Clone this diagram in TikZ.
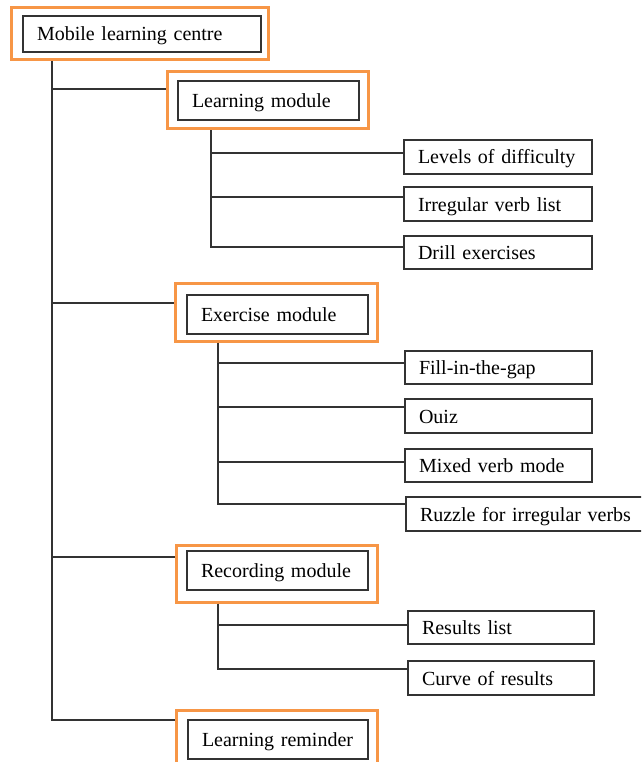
\documentclass[tikz,border=0pt]{standalone}
\usepackage{fontspec}
\setmainfont{Liberation Serif}
\definecolor{frameorange}{HTML}{F79646}
\definecolor{linegray}{HTML}{333333}
\begin{document}
\begin{tikzpicture}[x=1pt,y=-1pt,
  box/.style={draw=linegray, line width=1.6pt, fill=white, inner xsep=14pt, inner ysep=0pt,
    align=left, font=\fontsize{20}{22}\selectfont, text height=15pt, text depth=1pt},
  frame/.style={draw=frameorange, line width=3pt, inner sep=0pt},
  conn/.style={draw=linegray, line width=1.4pt}]
\useasboundingbox (0,0) rectangle (641,762);
\clip (0,0) rectangle (641,762);
\fill[white] (0,0) rectangle (641,762);

% orange frames
\node[frame, minimum width=257, minimum height=52] (f0) at (139.5,34) {};
\node[frame, minimum width=201, minimum height=57] (f1) at (267.5,100.5) {};
\node[frame, minimum width=202, minimum height=58] (f2) at (276,312) {};
\node[frame, minimum width=201, minimum height=57] (f3) at (276.5,573.5) {};
\node[frame, minimum width=201, minimum height=60] (f4) at (276.5,740) {};

% main boxes
\node[box, minimum width=238, minimum height=36, text width=210pt] (root) at (142,34) {Mobile learning centre};
\node[box, minimum width=181, minimum height=39, text width=153pt] (lm) at (268.5,100.5) {Learning module};
\node[box, minimum width=181, minimum height=39, text width=153pt] (em) at (277.5,314.5) {Exercise module};
\node[box, minimum width=181, minimum height=39, text width=153pt] (rm) at (277.5,570.5) {Recording module};
\node[box, minimum width=180, minimum height=39, text width=152pt] (lr) at (278,739.5) {Learning reminder};

% leaf boxes
\node[box, minimum width=188, minimum height=34, text width=160pt] (lev) at (498,157) {Levels of difficulty};
\node[box, minimum width=188, minimum height=34, text width=160pt] (irr) at (498,204) {Irregular verb list};
\node[box, minimum width=188, minimum height=33, text width=160pt] (dri) at (498,252.5) {Drill exercises};
\node[box, minimum width=187, minimum height=33, text width=159pt] (fil) at (498.5,367.5) {Fill-in-the-gap};
\node[box, minimum width=187, minimum height=34, text width=159pt] (oui) at (498.5,416) {Ouiz};
\node[box, minimum width=187, minimum height=33, text width=159pt] (mix) at (498.5,465.5) {Mixed verb mode};
\node[box, minimum width=244, minimum height=34, text width=216pt] (ruz) at (528,514) {Ruzzle for irregular verbs};
\node[box, minimum width=186, minimum height=33, text width=158pt] (res) at (501,627.5) {Results list};
\node[box, minimum width=186, minimum height=34, text width=158pt] (cur) at (501,678) {Curve of results};

% connector end points
\coordinate (t0) at (f0.south -| 52,0);
\coordinate (b1) at (f1.west |- 0,89);
\coordinate (b2) at (f2.west |- 0,303);
\coordinate (b3) at (f3.west |- 0,557);
\coordinate (b4) at (f4.west |- 0,720);

\coordinate (s1) at (f1.south -| 211,0);
\coordinate (c1) at (lev.west |- 0,153);
\coordinate (c2) at (irr.west |- 0,197);
\coordinate (c3) at (dri.west |- 0,247);

\coordinate (s2) at (f2.south -| 218,0);
\coordinate (c4) at (fil.west |- 0,363);
\coordinate (c5) at (oui.west |- 0,407);
\coordinate (c6) at (mix.west |- 0,462);
\coordinate (c7) at (ruz.west |- 0,504);

\coordinate (s3) at (f3.south -| 218,0);
\coordinate (c8) at (res.west |- 0,625);
\coordinate (c9) at (cur.west |- 0,669);

% trunk
\draw[conn] (t0) |- (b4);
\foreach \b in {b1,b2,b3} \draw[conn] (t0 |- \b) -- (\b);

% learning module branches
\draw[conn] (s1) |- (c3);
\foreach \c in {c1,c2} \draw[conn] (s1 |- \c) -- (\c);

% exercise module branches
\draw[conn] (s2) |- (c7);
\foreach \c in {c4,c5,c6} \draw[conn] (s2 |- \c) -- (\c);

% recording module branches
\draw[conn] (s3) |- (c9);
\draw[conn] (s3 |- c8) -- (c8);
\end{tikzpicture}
\end{document}
